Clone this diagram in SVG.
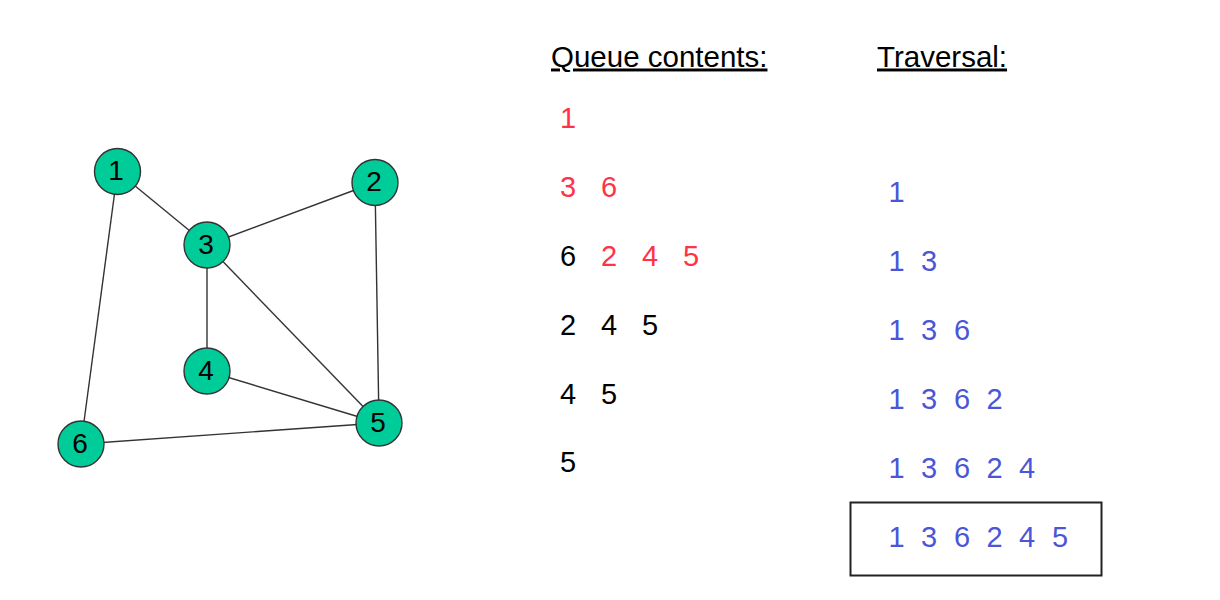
<svg xmlns="http://www.w3.org/2000/svg" width="1220" height="600" viewBox="0 0 1220 600">
<style>
.edge{stroke:#333;stroke-width:1.4;fill:none}
.node circle{fill:#00CC99;stroke:#333;stroke-width:1.4}
.node text{font-family:"Liberation Sans",Arial,sans-serif;font-size:28px;fill:#000;text-anchor:middle}
.t{font-family:"Liberation Sans",Arial,sans-serif;font-size:29px}
.h{text-decoration:underline;fill:#000;font-size:29.5px}
.r{fill:#FF3347}
.k{fill:#000}
.b{fill:#4A55D8}
</style>
<rect width="1220" height="600" fill="#fff"/>
<g id="connectors">
<line class="edge" x1="117.5" y1="171.5" x2="207" y2="245"/>
<line class="edge" x1="117.5" y1="171.5" x2="81" y2="444"/>
<line class="edge" x1="207" y1="245" x2="375" y2="182.5"/>
<line class="edge" x1="375" y1="182.5" x2="379" y2="423"/>
<line class="edge" x1="207" y1="245" x2="207" y2="371"/>
<line class="edge" x1="207" y1="245" x2="379" y2="423"/>
<line class="edge" x1="207" y1="371" x2="379" y2="423"/>
<line class="edge" x1="81" y1="444" x2="379" y2="423"/>
</g>
<g id="node1" class="node"><circle cx="117.5" cy="171.5" r="23"/><text x="116" y="180">1</text></g>
<g id="node2" class="node"><circle cx="375" cy="182.5" r="23"/><text x="374" y="191">2</text></g>
<g id="node3" class="node"><circle cx="207" cy="245" r="23"/><text x="206" y="254">3</text></g>
<g id="node4" class="node"><circle cx="207" cy="371" r="23"/><text x="206" y="380">4</text></g>
<g id="node5" class="node"><circle cx="379" cy="423" r="23"/><text x="378" y="432">5</text></g>
<g id="node6" class="node"><circle cx="81" cy="444" r="23"/><text x="80" y="453">6</text></g>
<g id="queue">
<text class="t h" x="551" y="66.5">Queue contents:</text>
<text class="t r" x="560" y="128">1</text>
<text class="t r" y="197"><tspan x="560">3</tspan><tspan x="601">6</tspan></text>
<text class="t" y="266"><tspan class="k" x="560">6</tspan><tspan class="r" x="601">2</tspan><tspan class="r" x="642">4</tspan><tspan class="r" x="683">5</tspan></text>
<text class="t k" y="335"><tspan x="560">2</tspan><tspan x="601">4</tspan><tspan x="642">5</tspan></text>
<text class="t k" y="403.5"><tspan x="560">4</tspan><tspan x="601">5</tspan></text>
<text class="t k" x="560" y="472">5</text>
</g>
<g id="traversal">
<text class="t h" x="877" y="66.5">Traversal:</text>
<text class="t b" x="888.5" y="202">1</text>
<text class="t b" y="271"><tspan x="888.5">1</tspan><tspan x="921">3</tspan></text>
<text class="t b" y="340"><tspan x="888.5">1</tspan><tspan x="921">3</tspan><tspan x="954">6</tspan></text>
<text class="t b" y="408.5"><tspan x="888.5">1</tspan><tspan x="921">3</tspan><tspan x="954">6</tspan><tspan x="986.5">2</tspan></text>
<text class="t b" y="477.5"><tspan x="888.5">1</tspan><tspan x="921">3</tspan><tspan x="954">6</tspan><tspan x="986.5">2</tspan><tspan x="1019">4</tspan></text>
<rect x="850.5" y="502.5" width="251" height="73" fill="none" stroke="#222" stroke-width="2"/>
<text class="t b" y="546.5"><tspan x="888.5">1</tspan><tspan x="921">3</tspan><tspan x="954">6</tspan><tspan x="986.5">2</tspan><tspan x="1019">4</tspan><tspan x="1052">5</tspan></text>
</g>
</svg>
